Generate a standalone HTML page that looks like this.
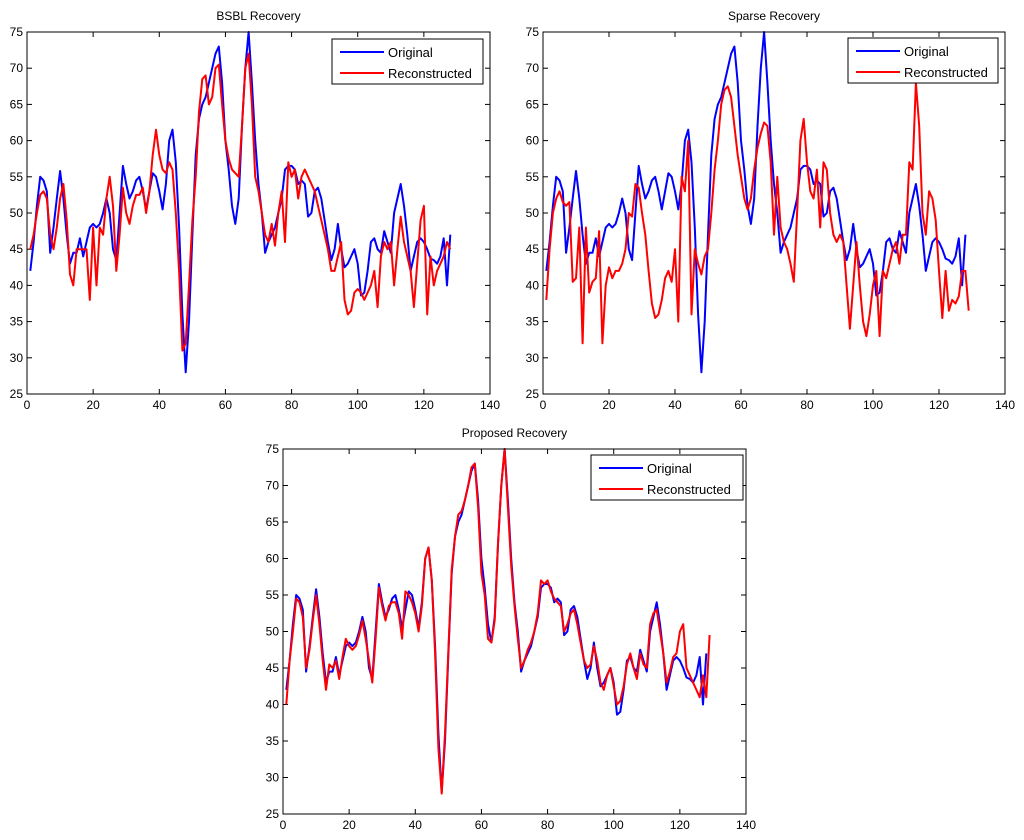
<!DOCTYPE html>
<html><head><meta charset="utf-8"><style>
body{margin:0;background:#fff;}
svg{display:block;font-family:"Liberation Sans",sans-serif;}
</style></head><body>
<svg id="fig" width="1024" height="840" viewBox="0 0 1024 840"></svg>
<script>
const xTicks=[0,20,40,60,80,100,120,140];
const yTicks=[25,30,35,40,45,50,55,60,65,70,75];
const original=[42,46,51,55,54.5,53,44.5,48,52,55.8,52,47,43,44.5,44.5,46.5,44,46,48,48.5,48,48.5,50,52,50,45,43.5,50,56.5,54,52,53,54.5,55,53,50.5,53,55.5,55,53,50.5,54,60,61.5,57,48,36,28,35,47,58,63,65,66,68,70,72,73,68,60,56,51,48.5,52,62,70,75,68,60,54,50,44.5,46,47,48,50,52,56,56.5,56.5,56,54,54.5,54,49.5,50,53,53.5,52,49,46,43.5,45,48.5,45,42.5,43,44,45,43,38.6,39,42,46,46.5,45,44.5,47.5,46,44.5,50,52,54,51,47,42,44,46,46.5,46,45,43.7,43.5,43,44,46.5,40,47];
const bsblRecon=[45,47,50,52.5,53,52,47,45,48,52,54,49,41.5,40,45,45,45,45,38,48,40,48,47,52,55,51,42,47,53.5,50,48.5,51,52.5,52.5,53.5,50,53,58,61.5,58,56,55.5,57,56,50,42,31,32,40,49,55,64,68.5,69,65,66,70,70.5,65,60,57.5,56,55.5,55,62,70,72,65,55,53,50,47,46,48.5,45.5,50,53,46,57,55,56,52,55,56,55,54,53,51,49,47,45,42,42,44,46,38,36,36.5,39,39.5,39,38,39,40,42,37,44,46,45,46,40,45,49.5,46,44,42,37,43,49,51,36,44,40,42,43,44,46,45];
const sparseRecon=[38,45,50,52,53,51.5,51,51.5,40.5,41,48,32,48,39,40.5,41,47.5,32,40,42.5,41,42,42,43,45,50,49.5,54,53.5,50,47,42,37.5,35.5,36,38,41,42,40.5,45,35,55,53,60,36,45,43,41.5,44,45,50,56,60,65,67,67.5,66,62,58,55,52,50.5,52,56,59,61,62.5,62,57,47,55,48,46,45,43,40.5,50,60,63,57,53,52,56,48,57,56,50,47,46,47,46,40,34,40,46,40,35,33,36,40,42,33,42,41,43,45,46,43,47,47,57,56,68,62,50,47,53,52,49,42,35.5,42,36.5,38,37.5,38.5,42,42,36.5];
const proposedRecon=[40,46,50,54.5,54,52,45,47.5,51.5,55,51,46,42,45.5,45,46,43.5,46.5,49,48,47.5,48,49.5,51.5,49,46,43,49,56,53.5,51.5,53.5,54,54,52.5,49,55.5,55,54,52.5,50,53.5,60,61.5,57,47,34,27.8,36,47.5,58.5,63,66,66.5,68,70,72.5,73,67,58,55,49,48.5,51.5,62,70,75,67,59,53.5,49,45,46,47.5,48.5,50,52.5,57,56.5,57,55.5,54.5,54,53.5,50,51,52.5,53,51,48.5,46,45,45.5,48,46,43,42,44,45,42.5,40,40.5,42.5,45.5,47,45,43.5,47,45.5,45,51,52.5,53,50,47,43,44.5,46.5,47,50,51,45,44,43,42,41,44,41,49.5];
const NS='http://www.w3.org/2000/svg';
const svg=document.getElementById('fig');
function mk(tag,attrs,parent){const e=document.createElementNS(NS,tag);for(const k in attrs)e.setAttribute(k,attrs[k]);(parent||svg).appendChild(e);return e;}
function plot(key,title,L,R,T,B,recon,leg){
  const g=mk('g',{});
  
  
  const sx=v=>L+(v-0)/(140-0)*(R-L);
  const sy=v=>B-(v-25)/(75-25)*(B-T);
  const bg=mk('rect',{x:L,y:T,width:R-L,height:B-T,fill:'#fff',stroke:'none'},g);
  
  
  xTicks.forEach(t=>{
    mk('line',{x1:sx(t),x2:sx(t),y1:B,y2:B-5,stroke:'#000','stroke-width':1},g);
    mk('line',{x1:sx(t),x2:sx(t),y1:T,y2:T+5,stroke:'#000','stroke-width':1},g);
    const tx=mk('text',{x:sx(t),y:B+15,'text-anchor':'middle','font-size':12,fill:'#000'},g);
    tx.textContent=t;
    
    
  });
  yTicks.forEach(t=>{
    mk('line',{x1:L,x2:L+5,y1:sy(t),y2:sy(t),stroke:'#000','stroke-width':1},g);
    mk('line',{x1:R,x2:R-5,y1:sy(t),y2:sy(t),stroke:'#000','stroke-width':1},g);
    const ty=mk('text',{x:L-4,y:sy(t)+4,'text-anchor':'end','font-size':12,fill:'#000'},g);
    ty.textContent=t;
    
    
  });
  const series=[[original,'#0000ff','original'],[recon,'#ff0000','reconstructed']];
  series.forEach(([d,c,n])=>{
    const pts=d.map((v,i)=>sx(i+1).toFixed(1)+','+sy(v).toFixed(1)).join(' ');
    const pl=mk('polyline',{points:pts,fill:'none',stroke:c,'stroke-width':2,'stroke-linejoin':'round'},g);
    
    
  });
  const frame=mk('rect',{x:L,y:T,width:R-L,height:B-T,fill:'none',stroke:'#000','stroke-width':1},g);
  
  
  const ti=mk('text',{x:(L+R)/2,y:T-12,'text-anchor':'middle','font-size':12,fill:'#000'},g);
  ti.textContent=title;
  
  
  const lg=mk('g',{},g);
  
  
  mk('rect',{x:leg[0],y:leg[1],width:leg[2],height:45,fill:'#fff',stroke:'#000','stroke-width':1},lg);
  [['Original','#0000ff'],['Reconstructed','#ff0000']].forEach(([s,c],i)=>{
    const yy=leg[1]+13+i*21;
    mk('line',{x1:leg[0]+8,x2:leg[0]+52,y1:yy,y2:yy,stroke:c,'stroke-width':2},lg);
    const t=mk('text',{x:leg[0]+56,y:yy+5,'font-size':13,fill:'#000'},lg);
    t.textContent=s;
    
    
  });
}
plot('bsbl','BSBL Recovery',27,490,32,394,bsblRecon,[332,39,151]);
plot('sparse','Sparse Recovery',543,1005,32,394,sparseRecon,[848,38,150]);
plot('proposed','Proposed Recovery',283,746,449,814,proposedRecon,[591,455,152]);
</script>
</body></html>
